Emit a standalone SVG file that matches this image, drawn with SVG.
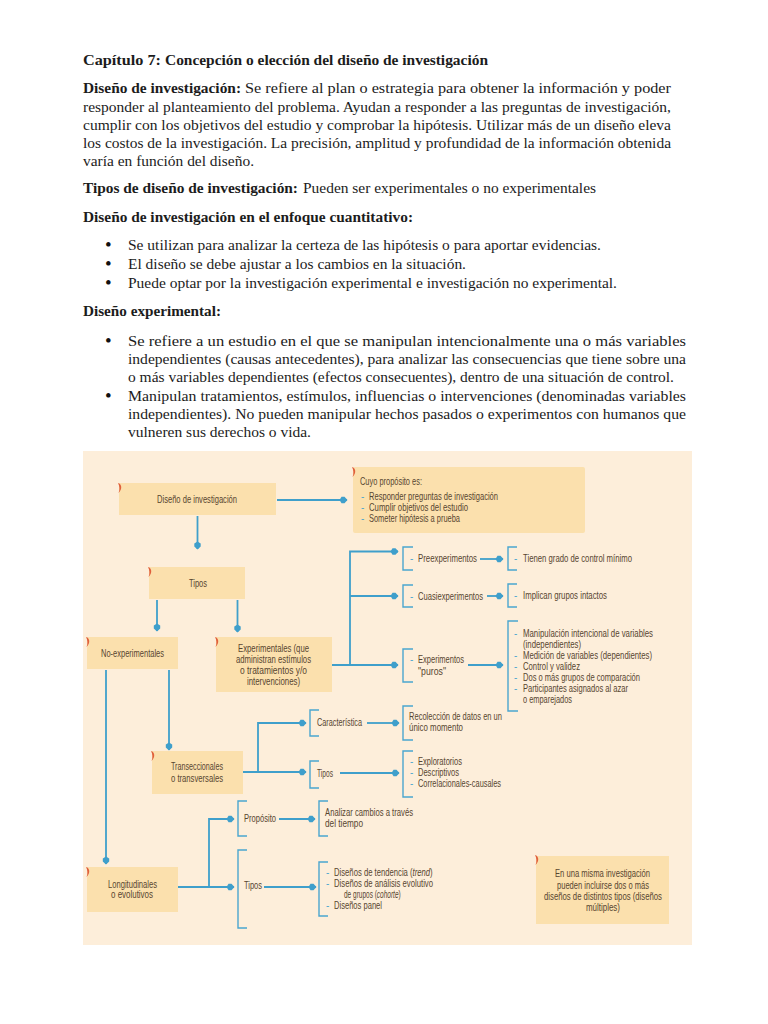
<svg xmlns="http://www.w3.org/2000/svg" width="768" height="1024" viewBox="0 0 768 1024">
<style>
.b{font-family:"Liberation Serif","Times New Roman",serif;font-size:14px;fill:#1c1c1c}
.h{font-weight:bold}
.p{font-family:"Liberation Serif","Times New Roman",serif;font-size:19px;fill:#111}
.t{font-family:"Liberation Sans",Arial,sans-serif;font-size:10.500px;fill:#574530}
.i{font-style:italic}
.box{fill:#fbe0ad}
.c{fill:none;stroke:#3f9fcb;stroke-width:1.800}
.a{marker-end:url(#dot)}
.k{fill:none;stroke:#4aa6cf;stroke-width:1.400}
.d{fill:#4aa6cf;font-family:"Liberation Sans",Arial,sans-serif;font-size:10px}
</style>
<defs>
<marker id="dot" markerUnits="userSpaceOnUse" markerWidth="10" markerHeight="10" refX="8" refY="5" orient="auto">
<path d="M0.500 5L2.500 1.800H5.500L8.500 5L5.500 8.200H2.500Z" fill="#3f9fcb"/>
</marker>
<path id="tick" d="M0 0C4 1 4.500 6.500 0.500 10C2 6.500 1.500 3 0 0Z" fill="#e0603c"/>
</defs>
<rect width="768" height="1024" fill="#ffffff"/>
<g id="document-text">
<text class="b h" x="83" y="65" textLength="78" lengthAdjust="spacingAndGlyphs">Capítulo 7:</text>
<text class="b h" x="165" y="65" textLength="323" lengthAdjust="spacingAndGlyphs">Concepción o elección del diseño de investigación</text>
<text class="b h" x="83" y="93" textLength="158" lengthAdjust="spacingAndGlyphs">Diseño de investigación:</text>
<text class="b" x="245" y="93" textLength="426" lengthAdjust="spacingAndGlyphs">Se refiere al plan o estrategia para obtener la información y poder</text>
<text class="b" x="83" y="112" textLength="588" lengthAdjust="spacingAndGlyphs">responder al planteamiento del problema. Ayudan a responder a las preguntas de investigación,</text>
<text class="b" x="83" y="130" textLength="588" lengthAdjust="spacingAndGlyphs">cumplir con los objetivos del estudio y comprobar la hipótesis. Utilizar más de un diseño eleva</text>
<text class="b" x="83" y="148" textLength="588" lengthAdjust="spacingAndGlyphs">los costos de la investigación. La precisión, amplitud y profundidad de la información obtenida</text>
<text class="b" x="83" y="166" textLength="171" lengthAdjust="spacingAndGlyphs">varía en función del diseño.</text>
<text class="b h" x="83" y="193" textLength="215" lengthAdjust="spacingAndGlyphs">Tipos de diseño de investigación:</text>
<text class="b" x="303" y="193" textLength="293" lengthAdjust="spacingAndGlyphs">Pueden ser experimentales o no experimentales</text>
<text class="b h" x="83" y="222" textLength="330" lengthAdjust="spacingAndGlyphs">Diseño de investigación en el enfoque cuantitativo:</text>
<text class="p" x="105" y="251">•</text>
<text class="b" x="128" y="250" textLength="473" lengthAdjust="spacingAndGlyphs">Se utilizan para analizar la certeza de las hipótesis o para aportar evidencias.</text>
<text class="p" x="105" y="270">•</text>
<text class="b" x="128" y="269" textLength="338" lengthAdjust="spacingAndGlyphs">El diseño se debe ajustar a los cambios en la situación.</text>
<text class="p" x="105" y="289">•</text>
<text class="b" x="128" y="288" textLength="489" lengthAdjust="spacingAndGlyphs">Puede optar por la investigación experimental e investigación no experimental.</text>
<text class="b h" x="83" y="316" textLength="138" lengthAdjust="spacingAndGlyphs">Diseño experimental:</text>
<text class="p" x="105" y="347">•</text>
<text class="b" x="128" y="346" textLength="558" lengthAdjust="spacingAndGlyphs">Se refiere a un estudio en el que se manipulan intencionalmente una o más variables</text>
<text class="b" x="128" y="364" textLength="558" lengthAdjust="spacingAndGlyphs">independientes (causas antecedentes), para analizar las consecuencias que tiene sobre una</text>
<text class="b" x="128" y="382" textLength="546" lengthAdjust="spacingAndGlyphs">o más variables dependientes (efectos consecuentes), dentro de una situación de control.</text>
<text class="p" x="105" y="402">•</text>
<text class="b" x="128" y="401" textLength="558" lengthAdjust="spacingAndGlyphs">Manipulan tratamientos, estímulos, influencias o intervenciones (denominadas variables</text>
<text class="b" x="128" y="419" textLength="558" lengthAdjust="spacingAndGlyphs">independientes). No pueden manipular hechos pasados o experimentos con humanos que</text>
<text class="b" x="128" y="437" textLength="183" lengthAdjust="spacingAndGlyphs">vulneren sus derechos o vida.</text>
</g>
<rect x="83" y="451" width="609" height="494" fill="#fdeeda"/>
<g id="connectors">
<path class="c a" d="M277 500H347"/>
<path class="c a" d="M197.500 516V549"/>
<path class="c a" d="M157 600V631"/>
<path class="c a" d="M237.500 600V632"/>
<path class="c a" d="M106 670V864"/>
<path class="c a" d="M169 670V750"/>
<path class="c a" d="M332 665H398"/>
<path class="c a" d="M350 665V551.500H398"/>
<path class="c a" d="M350 596H398"/>
<path class="c a" d="M480 559H503"/>
<path class="c a" d="M487 596H503"/>
<path class="c a" d="M468 665H503"/>
<path class="c a" d="M243 772H306"/>
<path class="c a" d="M258 772V723H306"/>
<path class="c a" d="M367 723H399"/>
<path class="c a" d="M340 773H399"/>
<path class="c a" d="M178 887H234"/>
<path class="c a" d="M209 887V819H234"/>
<path class="c a" d="M279 819H315"/>
<path class="c a" d="M264 887H316"/>
<path class="k" d="M413 547H403V570H413"/>
<path class="k" d="M413 585H403V607H413"/>
<path class="k" d="M413 649H403V682H413"/>
<path class="k" d="M517 547H508V570H517"/>
<path class="k" d="M517 584H508V607H517"/>
<path class="k" d="M518 621H508V711H518"/>
<path class="k" d="M319 710H310V736H319"/>
<path class="k" d="M319 761H310V788H319"/>
<path class="k" d="M413 706H403V740H413"/>
<path class="k" d="M413 751H403V797H413"/>
<path class="k" d="M247 801H238V836H247"/>
<path class="k" d="M247 850H238V928H247"/>
<path class="k" d="M328 801H319V836H328"/>
<path class="k" d="M328 862H319V916H328"/>
</g>
<g id="node-diseno"><rect class="box" x="119" y="483" width="157" height="32"/><use href="#tick" x="118" y="483"/>
<text class="t" x="157" y="503" textLength="80" lengthAdjust="spacingAndGlyphs">Diseño de investigación</text></g>
<g id="node-proposito"><rect class="box" x="353" y="467" width="232" height="66" rx="2"/><use href="#tick" x="352" y="467"/>
<text class="t" x="360" y="485" textLength="62" lengthAdjust="spacingAndGlyphs">Cuyo propósito es:</text>
<text class="d" x="361" y="500">-</text><text class="t" x="369" y="500" textLength="129" lengthAdjust="spacingAndGlyphs">Responder preguntas de investigación</text>
<text class="d" x="361" y="511">-</text><text class="t" x="369" y="511" textLength="99" lengthAdjust="spacingAndGlyphs">Cumplir objetivos del estudio</text>
<text class="d" x="361" y="522">-</text><text class="t" x="369" y="522" textLength="91" lengthAdjust="spacingAndGlyphs">Someter hipótesis a prueba</text></g>
<g id="node-tipos"><rect class="box" x="149" y="567" width="96" height="32"/><use href="#tick" x="148" y="567"/>
<text class="t" x="189" y="587" textLength="18" lengthAdjust="spacingAndGlyphs">Tipos</text></g>
<g id="node-no-experimentales"><rect class="box" x="87" y="637" width="91" height="32"/><use href="#tick" x="86" y="637"/>
<text class="t" x="101" y="657" textLength="63" lengthAdjust="spacingAndGlyphs">No-experimentales</text></g>
<g id="node-experimentales"><rect class="box" x="216" y="637" width="116" height="55"/><use href="#tick" x="215" y="637"/>
<text class="t" x="238" y="652" textLength="71" lengthAdjust="spacingAndGlyphs">Experimentales (que</text>
<text class="t" x="236" y="663" textLength="75" lengthAdjust="spacingAndGlyphs">administran estímulos</text>
<text class="t" x="240" y="674" textLength="67" lengthAdjust="spacingAndGlyphs">o tratamientos y/o</text>
<text class="t" x="247" y="685" textLength="53" lengthAdjust="spacingAndGlyphs">intervenciones)</text></g>
<g id="node-transeccionales"><rect class="box" x="152" y="751" width="91" height="43"/><use href="#tick" x="151" y="751"/>
<text class="t" x="171" y="770" textLength="52" lengthAdjust="spacingAndGlyphs">Transeccionales</text>
<text class="t" x="171" y="782" textLength="52" lengthAdjust="spacingAndGlyphs">o transversales</text></g>
<g id="node-longitudinales"><rect class="box" x="87" y="867" width="91" height="45"/><use href="#tick" x="86" y="867"/>
<text class="t" x="108" y="888" textLength="49" lengthAdjust="spacingAndGlyphs">Longitudinales</text>
<text class="t" x="111" y="898" textLength="42" lengthAdjust="spacingAndGlyphs">o evolutivos</text></g>
<g id="node-nota"><rect class="box" x="536" y="856" width="133" height="68"/><use href="#tick" x="535" y="855"/>
<text class="t" x="555" y="877" textLength="95" lengthAdjust="spacingAndGlyphs">En una misma investigación</text>
<text class="t" x="557" y="889" textLength="92" lengthAdjust="spacingAndGlyphs">pueden incluirse dos o más</text>
<text class="t" x="544" y="900" textLength="118" lengthAdjust="spacingAndGlyphs">diseños de distintos tipos (diseños</text>
<text class="t" x="586" y="911" textLength="34" lengthAdjust="spacingAndGlyphs">múltiples)</text></g>
<g id="node-preexperimentos"><text class="d" x="410" y="562">-</text><text class="t" x="418" y="562" textLength="59" lengthAdjust="spacingAndGlyphs">Preexperimentos</text></g>
<g id="node-control-minimo"><text class="d" x="514" y="562">-</text><text class="t" x="523" y="562" textLength="109" lengthAdjust="spacingAndGlyphs">Tienen grado de control mínimo</text></g>
<g id="node-cuasi"><text class="d" x="410" y="600">-</text><text class="t" x="418" y="600" textLength="65" lengthAdjust="spacingAndGlyphs">Cuasiexperimentos</text></g>
<g id="node-intactos"><text class="d" x="514" y="599">-</text><text class="t" x="523" y="599" textLength="84" lengthAdjust="spacingAndGlyphs">Implican grupos intactos</text></g>
<g id="node-puros"><text class="d" x="410" y="663">-</text><text class="t" x="418" y="663" textLength="46" lengthAdjust="spacingAndGlyphs">Experimentos</text>
<text class="t" x="418" y="675" textLength="28" lengthAdjust="spacingAndGlyphs">"puros"</text></g>
<g id="node-puros-lista">
<text class="d" x="514" y="637">-</text><text class="t" x="523" y="637" textLength="130" lengthAdjust="spacingAndGlyphs">Manipulación intencional de variables</text>
<text class="t" x="523" y="648" textLength="58" lengthAdjust="spacingAndGlyphs">(independientes)</text>
<text class="d" x="514" y="659">-</text><text class="t" x="523" y="659" textLength="129" lengthAdjust="spacingAndGlyphs">Medición de variables (dependientes)</text>
<text class="d" x="514" y="670">-</text><text class="t" x="523" y="670" textLength="57" lengthAdjust="spacingAndGlyphs">Control y validez</text>
<text class="d" x="514" y="681">-</text><text class="t" x="523" y="681" textLength="117" lengthAdjust="spacingAndGlyphs">Dos o más grupos de comparación</text>
<text class="d" x="514" y="692">-</text><text class="t" x="523" y="692" textLength="105" lengthAdjust="spacingAndGlyphs">Participantes asignados al azar</text>
<text class="t" x="523" y="703" textLength="49" lengthAdjust="spacingAndGlyphs">o emparejados</text></g>
<g id="node-caracteristica"><text class="t" x="317" y="726" textLength="45" lengthAdjust="spacingAndGlyphs">Característica</text></g>
<g id="node-recoleccion"><text class="t" x="409" y="720" textLength="93" lengthAdjust="spacingAndGlyphs">Recolección de datos en un</text>
<text class="t" x="409" y="731" textLength="54" lengthAdjust="spacingAndGlyphs">único momento</text></g>
<g id="node-tipos-trans"><text class="t" x="317" y="777" textLength="16" lengthAdjust="spacingAndGlyphs">Tipos</text></g>
<g id="node-tipos-trans-lista">
<text class="d" x="410" y="765">-</text><text class="t" x="418" y="765" textLength="44" lengthAdjust="spacingAndGlyphs">Exploratorios</text>
<text class="d" x="410" y="776">-</text><text class="t" x="418" y="776" textLength="41" lengthAdjust="spacingAndGlyphs">Descriptivos</text>
<text class="d" x="410" y="787">-</text><text class="t" x="418" y="787" textLength="83" lengthAdjust="spacingAndGlyphs">Correlacionales-causales</text></g>
<g id="node-proposito-long"><text class="t" x="244" y="822" textLength="32" lengthAdjust="spacingAndGlyphs">Propósito</text></g>
<g id="node-analizar"><text class="t" x="325" y="816" textLength="88" lengthAdjust="spacingAndGlyphs">Analizar cambios a través</text>
<text class="t" x="325" y="827" textLength="38" lengthAdjust="spacingAndGlyphs">del tiempo</text></g>
<g id="node-tipos-long"><text class="t" x="244" y="889" textLength="18" lengthAdjust="spacingAndGlyphs">Tipos</text></g>
<g id="node-tipos-long-lista">
<text class="d" x="326" y="876">-</text><text class="t" transform="translate(334 876) scale(0.733 1)">Diseños de tendencia (<tspan class="i">trend</tspan>)</text>
<text class="d" x="326" y="887">-</text><text class="t" x="334" y="887" textLength="99" lengthAdjust="spacingAndGlyphs">Diseños de análisis evolutivo</text>
<text class="t" transform="translate(344 898) scale(0.62 1)">de grupos (<tspan class="i">cohorte</tspan>)</text>
<text class="d" x="326" y="909">-</text><text class="t" x="334" y="909" textLength="48" lengthAdjust="spacingAndGlyphs">Diseños panel</text></g>
</svg>
